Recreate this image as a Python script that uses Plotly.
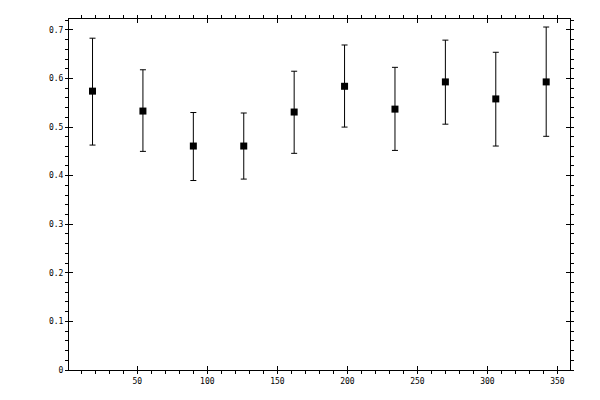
import plotly.graph_objects as go

# angle positions and measured means with upper / lower error bounds
angle = [18, 54, 90, 126, 162, 198, 234, 270, 306, 342]
value = [0.574, 0.533, 0.461, 0.461, 0.531, 0.584, 0.537, 0.593, 0.558, 0.593]
upper = [0.683, 0.618, 0.530, 0.529, 0.615, 0.669, 0.623, 0.679, 0.654, 0.706]
lower = [0.463, 0.450, 0.390, 0.393, 0.446, 0.500, 0.452, 0.506, 0.461, 0.481]

err_plus = [u - v for u, v in zip(upper, value)]
err_minus = [v - l for v, l in zip(value, lower)]

xr = [1.2, 359]
yr = [0, 0.7225]
font = dict(family="DejaVu Sans Mono", size=8, color="black")

fig = go.Figure()
fig.add_trace(go.Scatter(
    x=angle, y=value, mode="markers",
    marker=dict(symbol="square", size=7, color="black"),
    error_y=dict(type="data", array=err_plus, arrayminus=err_minus,
                 color="black", thickness=1, width=3),
    showlegend=False,
))
# invisible trace to get a second pair of axes for inward major ticks
fig.add_trace(go.Scatter(x=[None], y=[None], xaxis="x2", yaxis="y2",
                         showlegend=False, hoverinfo="skip"))

fig.update_layout(
    width=600, height=400,
    margin=dict(l=61, r=38, t=11, b=38),
    plot_bgcolor="white", paper_bgcolor="white",
    font=font,
    xaxis=dict(range=xr, showgrid=False, zeroline=False, showline=True,
               linecolor="black", linewidth=1, mirror="allticks",
               ticks="outside", ticklen=3, tickcolor="black", dtick=50, tick0=0,
               minor=dict(ticks="outside", ticklen=3, dtick=10, tickcolor="black"),
               tickfont=font, automargin=False),
    yaxis=dict(range=yr, showgrid=False, zeroline=False, showline=True,
               linecolor="black", linewidth=1, mirror="allticks",
               ticks="outside", ticklen=3, tickcolor="black", dtick=0.1, tick0=0,
               minor=dict(ticks="outside", ticklen=3, dtick=0.02, tickcolor="black"),
               tickfont=font, automargin=False),
    xaxis2=dict(range=xr, overlaying="x", showgrid=False, zeroline=False,
                showline=False, mirror="allticks", ticks="inside", ticklen=4,
                tickcolor="black", dtick=50, tick0=0, showticklabels=False),
    yaxis2=dict(range=yr, overlaying="y", showgrid=False, zeroline=False,
                showline=False, mirror="allticks", ticks="inside", ticklen=4,
                tickcolor="black", dtick=0.1, tick0=0, showticklabels=False),
)

fig.write_html("out.html")
